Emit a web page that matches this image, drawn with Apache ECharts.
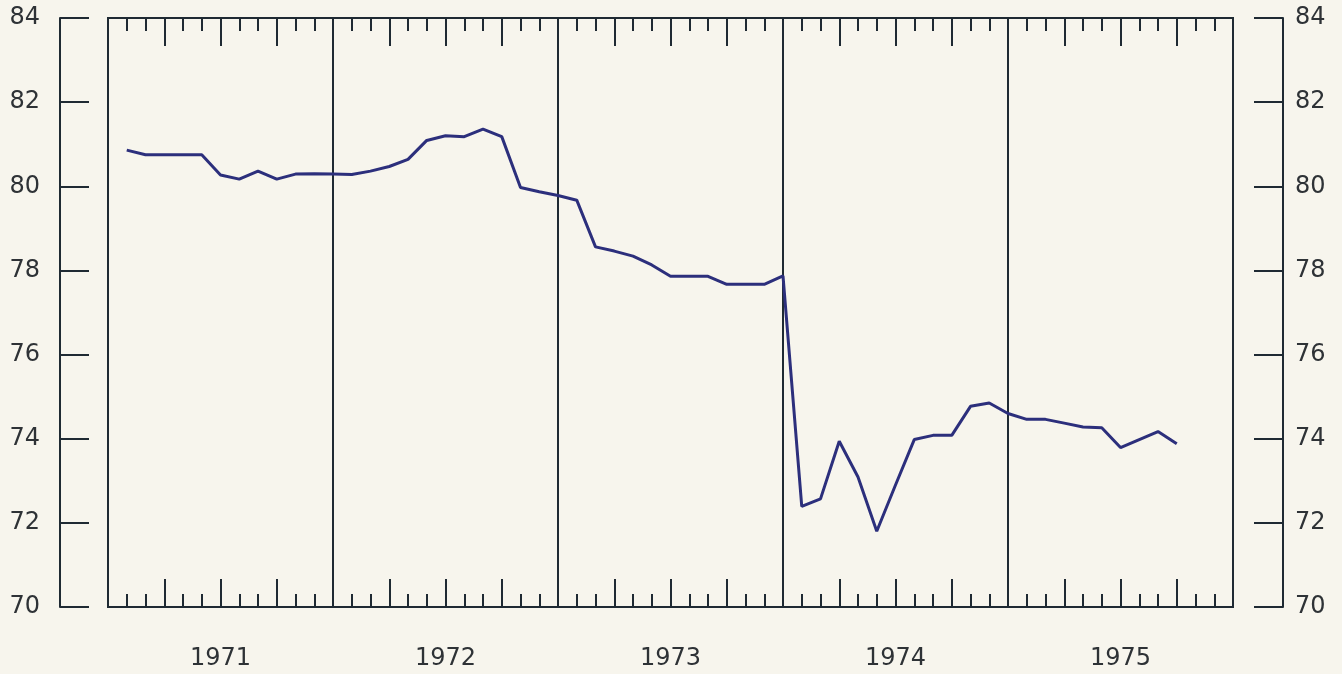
<!DOCTYPE html>
<html>
<head>
<meta charset="utf-8">
<script src="https://cdn.jsdelivr.net/npm/echarts@6/dist/echarts.min.js"></script>
<style>
  html, body { margin: 0; padding: 0; background: #f7f5ed; }
  #chart { width: 1342px; height: 674px; }
</style>
</head>
<body>
<div id="chart"></div>
<script>
// years shown along the bottom
const years = ['1971', '1972', '1973', '1974', '1975'];
// first plotted month (counted from Jan 1971 = 0)
const firstMonth = 1;
// monthly values
const values = [
  80.86, 80.75, 80.75, 80.75, 80.75, 80.27, 80.17, 80.36, 80.17, 80.29, 80.3, 80.29,
  80.28, 80.36, 80.47, 80.64, 81.09, 81.2, 81.18, 81.36, 81.18, 79.97, 79.87, 79.78,
  79.67, 78.56, 78.46, 78.34, 78.13, 77.86, 77.86, 77.86, 77.67, 77.67, 77.67, 77.87,
  72.39, 72.57, 73.94, 73.09, 71.8, 72.9, 73.98, 74.08, 74.08, 74.77, 74.85, 74.6,
  74.46, 74.46, 74.37, 74.28, 74.26, 73.79, 73.98, 74.17, 73.88
];
// y axis range
const yMin = 70, yMax = 84, yStep = 2;

const ink = '#1f2a33';
const textInk = '#2e3236';
const font = 'DejaVu Sans';

const points = values.map((v, i) => [firstMonth + i, v]);

const chart = echarts.init(document.getElementById('chart'));

const monthAxis = (pos) => ({
  type: 'value',
  position: pos,
  min: 0,
  max: years.length * 12,
  interval: 3,
  axisLine: { show: true, onZero: false, lineStyle: { color: ink, width: 2 } },
  axisTick: { show: true, inside: true, length: 28, lineStyle: { color: ink, width: 2 } },
  minorTick: { show: true, splitNumber: 3, length: 13, lineStyle: { color: ink, width: 2 } },
  axisLabel: { show: false },
  splitLine: { show: false },
  minorSplitLine: { show: false }
});

const valueAxis = (pos, offset, margin) => ({
  type: 'value',
  position: pos,
  offset: offset,
  min: yMin,
  max: yMax,
  interval: yStep,
  axisLine: { show: true, onZero: false, lineStyle: { color: ink, width: 2 } },
  axisTick: { show: true, inside: true, length: 29, lineStyle: { color: ink, width: 2 } },
  axisLabel: { show: true, margin: margin, color: textInk, fontFamily: font, fontSize: 24 },
  splitLine: { show: false }
});

chart.setOption({
  animation: false,
  backgroundColor: '#f7f5ed',
  grid: {
    left: 108, right: 109, top: 18, bottom: 67,
    show: true, borderColor: ink, borderWidth: 2,
    containLabel: false
  },
  xAxis: [
    monthAxis('bottom'),
    monthAxis('top'),
    {
      type: 'category',
      position: 'bottom',
      data: years,
      boundaryGap: true,
      axisLine: { show: false, onZero: false },
      axisTick: { show: false },
      axisLabel: { show: true, margin: 40, color: textInk, fontFamily: font, fontSize: 24 },
      splitLine: { show: true, lineStyle: { color: ink, width: 2 } }
    }
  ],
  yAxis: [
    valueAxis('left', 48, 20),
    valueAxis('right', 50, 12)
  ],
  series: [
    {
      type: 'line',
      xAxisIndex: 0,
      yAxisIndex: 0,
      data: points,
      showSymbol: false,
      lineStyle: { color: '#2c2f7c', width: 3 },
      z: 5
    }
  ]
});
</script>
</body>
</html>
